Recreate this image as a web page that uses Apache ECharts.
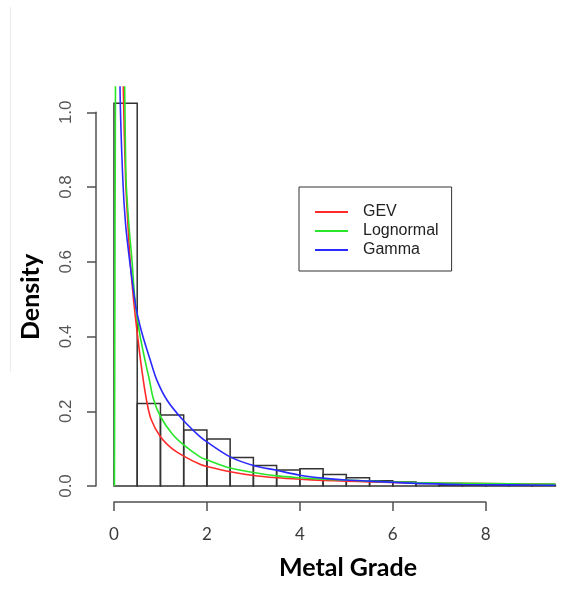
<!DOCTYPE html>
<html><head><meta charset="utf-8">
<script src="https://cdn.jsdelivr.net/npm/echarts@6/dist/echarts.min.js"></script>
<style>html,body{margin:0;padding:0;background:#fff}#c{width:561px;height:600px}</style>
</head><body><div id="c"></div>
<script>
// Histogram (bin width 0.5)
const binStarts = [0,0.5,1,1.5,2,2.5,3,3.5,4,4.5,5,5.5,6,6.5,7,7.5,8,8.5,9];
const binWidth = 0.5;
const densities = [1.024,0.221,0.19,0.15,0.126,0.076,0.055,0.043,0.046,0.031,0.022,0.014,0.011,0.007,0.004,0.004,0.002,0.002,0.002];
// Fitted density curves [x, density]
const gevCurve = [[0.15,1.6],[0.2,1.07],[0.25,0.82],[0.3,0.7],[0.35,0.6],[0.42,0.5],[0.5,0.41],[0.6,0.31],[0.7,0.23],[0.8,0.178],[1.0,0.132],[1.25,0.1],[1.5,0.08],[1.85,0.058],[2.0,0.052],[2.5,0.038],[3.0,0.028],[3.5,0.022],[4.0,0.018],[4.5,0.015],[5.0,0.013],[5.5,0.011],[6.5,0.008],[7.5,0.007],[8.5,0.006],[9.5,0.005]];
const lognormalCurve = [[0.01,0],[0.035,1.2],[0.1,3.0],[0.2,1.3],[0.23,1.07],[0.26,0.82],[0.32,0.7],[0.39,0.6],[0.45,0.5],[0.55,0.41],[0.67,0.335],[0.76,0.285],[0.85,0.232],[1.0,0.186],[1.25,0.14],[1.5,0.11],[1.85,0.078],[2.0,0.07],[2.5,0.048],[3.0,0.036],[3.5,0.027],[4.0,0.022],[4.5,0.018],[5.0,0.016],[5.5,0.013],[6.5,0.009],[7.5,0.007],[8.5,0.006],[9.5,0.005]];
const gammaCurve = [[0.05,3.0],[0.13,1.07],[0.19,0.82],[0.25,0.7],[0.34,0.6],[0.47,0.48],[0.6,0.41],[0.78,0.337],[0.92,0.284],[1.14,0.23],[1.46,0.18],[1.85,0.132],[2.0,0.118],[2.5,0.078],[3.0,0.055],[3.5,0.042],[4.0,0.029],[4.5,0.021],[5.0,0.016],[5.5,0.013],[6.5,0.007],[7.5,0.004],[8.5,0.003],[9.5,0.002]];
const xTickMin = 0, xTickMax = 8, xTickStep = 2;
const yTickMin = 0, yTickMax = 1, yTickStep = 0.2;
const seriesNames = ['GEV','Lognormal','Gamma'];
const seriesColors = ['#ff2a2a','#2ae62a','#2a2aff'];

const chart = echarts.init(document.getElementById('c'), null, {renderer:'canvas'});
const axisColor = '#505050';
const histData = binStarts.map((s,i)=>[s, s+binWidth, densities[i]]);
const curves = [gevCurve, lognormalCurve, gammaCurve];

chart.setOption({
  backgroundColor:'#fff',
  animation:false,
  grid:[
    {left:96, right:0, top:87, bottom:98},
    {left:114, right:75.3, top:87, bottom:98},
    {left:96, right:0, top:112.3, bottom:114}
  ],
  xAxis:[
    {gridIndex:0, type:'value', min:-0.387, max:9.62, show:false},
    {gridIndex:1, type:'value', min:xTickMin, max:xTickMax, interval:xTickStep,
     axisLine:{show:true, lineStyle:{color:axisColor, width:1.5}},
     axisTick:{show:true, length:9, lineStyle:{color:axisColor, width:1.5}},
     splitLine:{show:false},
     axisLabel:{margin:24, fontFamily:'Lato', fontSize:17, color:'#3a3a3a'}},
    {gridIndex:2, type:'value', min:0, max:1, show:false}
  ],
  yAxis:[
    {gridIndex:0, type:'value', min:-0.0428, max:1.0677, show:false},
    {gridIndex:1, type:'value', min:0, max:1, show:false},
    {gridIndex:2, type:'value', min:yTickMin, max:yTickMax, interval:yTickStep,
     axisLine:{show:true, lineStyle:{color:axisColor, width:1.5}},
     axisTick:{show:true, length:9, lineStyle:{color:axisColor, width:1.5}},
     splitLine:{show:false},
     axisLabel:{margin:21, rotate:90, fontFamily:'Liberation Sans', fontSize:17, color:'#555',
       formatter:v=>v.toFixed(1)}}
  ],
  legend:{
    left:299, top:187, orient:'vertical',
    data:seriesNames,
    icon:'rect', itemWidth:33, itemHeight:2, itemGap:1,
    padding:[16,13,12,16],
    borderColor:'#333', borderWidth:1,
    textStyle:{fontFamily:'Liberation Sans', fontSize:16, color:'#222', lineHeight:18, padding:[0,0,0,10]}
  },
  graphic:[
    {type:'line', shape:{x1:10.5, y1:7, x2:10.5, y2:372}, style:{stroke:'#ececec', lineWidth:1}},
    {type:'text', x:348, y:568, style:{text:'Metal Grade', font:'bold 25px Lato', fill:'#000', align:'center', verticalAlign:'middle'}},
    {type:'text', x:31, y:297, rotation:Math.PI/2, style:{text:'Density', font:'bold 25px Lato', fill:'#000', align:'center', verticalAlign:'middle'}}
  ],
  series:[
    {type:'custom', xAxisIndex:0, yAxisIndex:0, data:histData, z:1,
     renderItem:(params, api)=>{
       const p0 = api.coord([api.value(0), 0]);
       const p1 = api.coord([api.value(1), api.value(2)]);
       return {type:'rect', shape:{x:p0[0], y:p1[1], width:p1[0]-p0[0], height:p0[1]-p1[1]},
         style:{fill:'none', stroke:'#333', lineWidth:1.5}};
     }},
    ...curves.map((d,i)=>({
      type:'line', name:seriesNames[i], xAxisIndex:0, yAxisIndex:0, data:d,
      showSymbol:false, symbol:'none', smooth:0.3, clip:true, z:2+i,
      lineStyle:{color:seriesColors[i], width:1.6}, itemStyle:{color:seriesColors[i]}
    }))
  ]
});
</script></body></html>
